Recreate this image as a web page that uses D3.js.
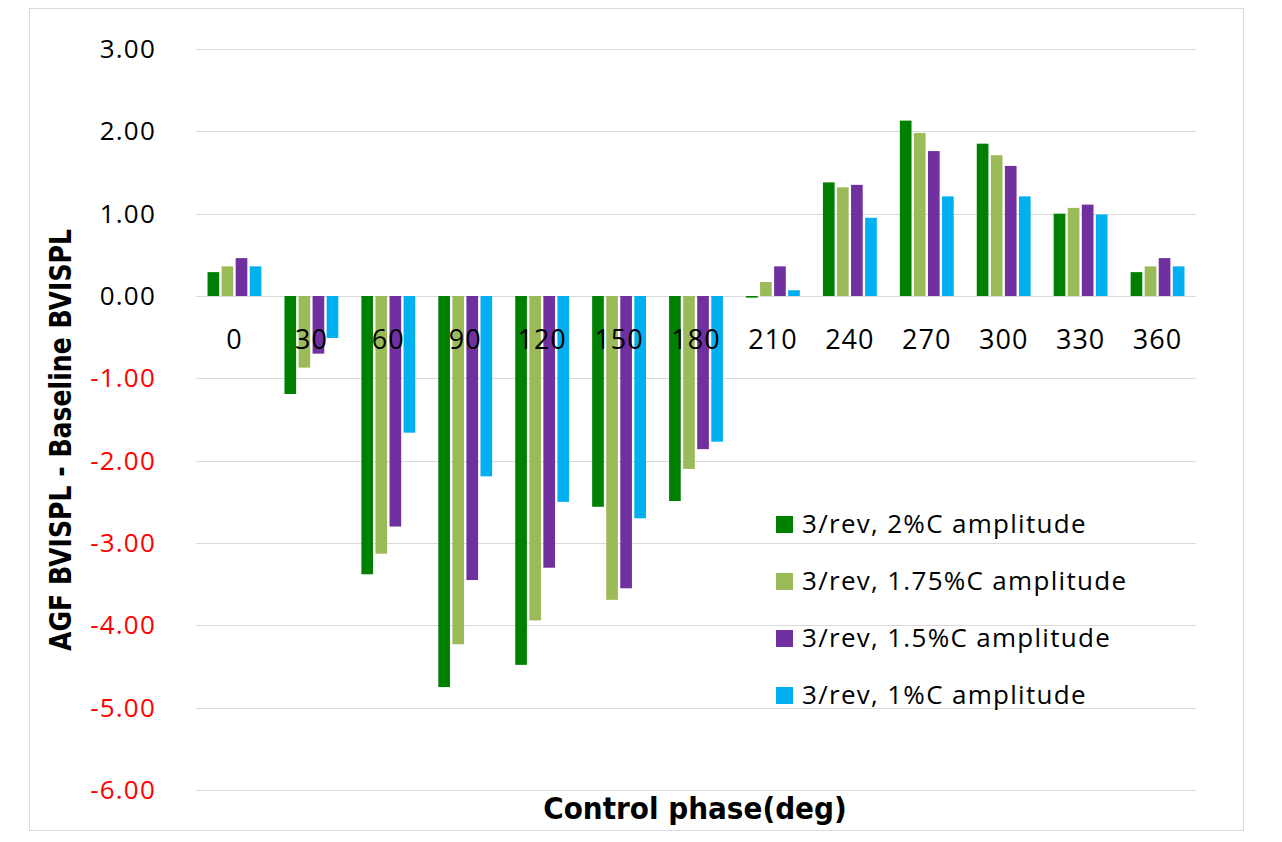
<!DOCTYPE html>
<html><head><meta charset="utf-8">
<script src="https://cdn.jsdelivr.net/npm/d3@7"></script>
<style>body{margin:0;background:#fff;}svg{display:block;}</style>
</head><body><svg id="c" width="1282" height="842"></svg>
<script>
const categories = ["0","30","60","90","120","150","180","210","240","270","300","330","360"];
const seriesNames = ["3/rev, 2%C amplitude","3/rev, 1.75%C amplitude","3/rev, 1.5%C amplitude","3/rev, 1%C amplitude"];
const s2pct   = [0.29,-1.19,-3.38,-4.75,-4.48,-2.56,-2.49,-0.02,1.38,2.13,1.85,1.00,0.29];
const s175pct = [0.36,-0.87,-3.13,-4.23,-3.94,-3.69,-2.10,0.17,1.32,1.98,1.71,1.07,0.36];
const s15pct  = [0.46,-0.70,-2.80,-3.45,-3.30,-3.55,-1.86,0.36,1.35,1.76,1.58,1.11,0.46];
const s1pct   = [0.36,-0.51,-1.66,-2.19,-2.50,-2.70,-1.77,0.07,0.95,1.21,1.21,0.99,0.36];
const yTicks = [3,2,1,0,-1,-2,-3,-4,-5,-6];
const colors = ["#008000","#9bbb59","#7030a0","#00b0f0"];
const seriesValues = [s2pct, s175pct, s15pct, s1pct];

const svg = d3.select("#c");
const L = 196, R = 1196, T = 49, B = 790;
const bodyFont = "'Open Sans', sans-serif";
const titleFont = "'DejaVu Sans Condensed','DejaVu Sans',sans-serif";

svg.append("rect").attr("x",29.5).attr("y",8.5).attr("width",1214).attr("height",822)
  .attr("fill","#fff").attr("stroke","#d9d9d9").attr("stroke-width",1);

const y = d3.scaleLinear().domain([-6,3]).range([B,T]);
const x = d3.scaleBand().domain(categories).range([L,R]).paddingInner(0.3).paddingOuter(0.15);
const xs = d3.scaleBand().domain(d3.range(4)).range([0,x.bandwidth()]).paddingInner(0.17);

// gridlines
svg.append("g").selectAll("line").data(yTicks).join("line")
  .attr("x1",L).attr("x2",R).attr("y1",d=>Math.round(y(d))+0.5).attr("y2",d=>Math.round(y(d))+0.5)
  .attr("stroke","#d9d9d9").attr("stroke-width",1.2);

// y tick labels
svg.append("g").selectAll("text").data(yTicks).join("text")
  .attr("x",156).attr("y",d=>y(d)).attr("dy","0.35em").attr("text-anchor","end")
  .attr("font-family",bodyFont).attr("font-size",26).attr("letter-spacing",1.2)
  .attr("fill",d=>d<0?"#ff0000":"#000")
  .text(d=>d3.format(".2f")(d).replace("\u2212","-"));

// bars
const data = [];
categories.forEach((c,i)=>seriesValues.forEach((s,j)=>data.push({c, j, v:s[i]})));
svg.append("g").selectAll("rect").data(data).join("rect")
  .attr("x",d=>x(d.c)+xs(d.j)).attr("width",xs.bandwidth())
  .attr("y",d=>y(Math.max(0,d.v))).attr("height",d=>Math.abs(y(d.v)-y(0)))
  .attr("fill",d=>colors[d.j]);

// x tick labels
svg.append("g").selectAll("text").data(categories).join("text")
  .attr("x",d=>x(d)+x.bandwidth()/2).attr("y",340).attr("dy","0.35em").attr("text-anchor","middle")
  .attr("font-family",bodyFont).attr("font-size",27).attr("letter-spacing",1).attr("fill","#000")
  .text(d=>d);

// axis titles
svg.append("text").attr("x",695).attr("y",808).attr("dy","0.35em").attr("text-anchor","middle")
  .attr("font-family",titleFont).attr("font-weight","bold")
  .attr("font-size",31).attr("fill","#000").text("Control phase(deg)");
svg.append("text").attr("transform","translate(60,440) rotate(-90)").attr("dy","0.35em").attr("text-anchor","middle")
  .attr("font-family",titleFont).attr("font-weight","bold")
  .attr("font-size",31).attr("textLength",422).attr("lengthAdjust","spacingAndGlyphs")
  .attr("fill","#000").text("AGF BVISPL - Baseline BVISPL");

// legend
const lg = svg.append("g").selectAll("g").data(seriesNames).join("g")
  .attr("transform",(d,i)=>`translate(776,${524+i*57})`);
lg.append("rect").attr("x",0).attr("y",-8).attr("width",17).attr("height",17).attr("fill",(d,i)=>colors[i]);
lg.append("text").attr("x",26).attr("y",0).attr("dy","0.35em")
  .attr("font-family",bodyFont).attr("font-size",26).attr("letter-spacing",1.3).attr("fill","#000").text(d=>d);
</script></body></html>
